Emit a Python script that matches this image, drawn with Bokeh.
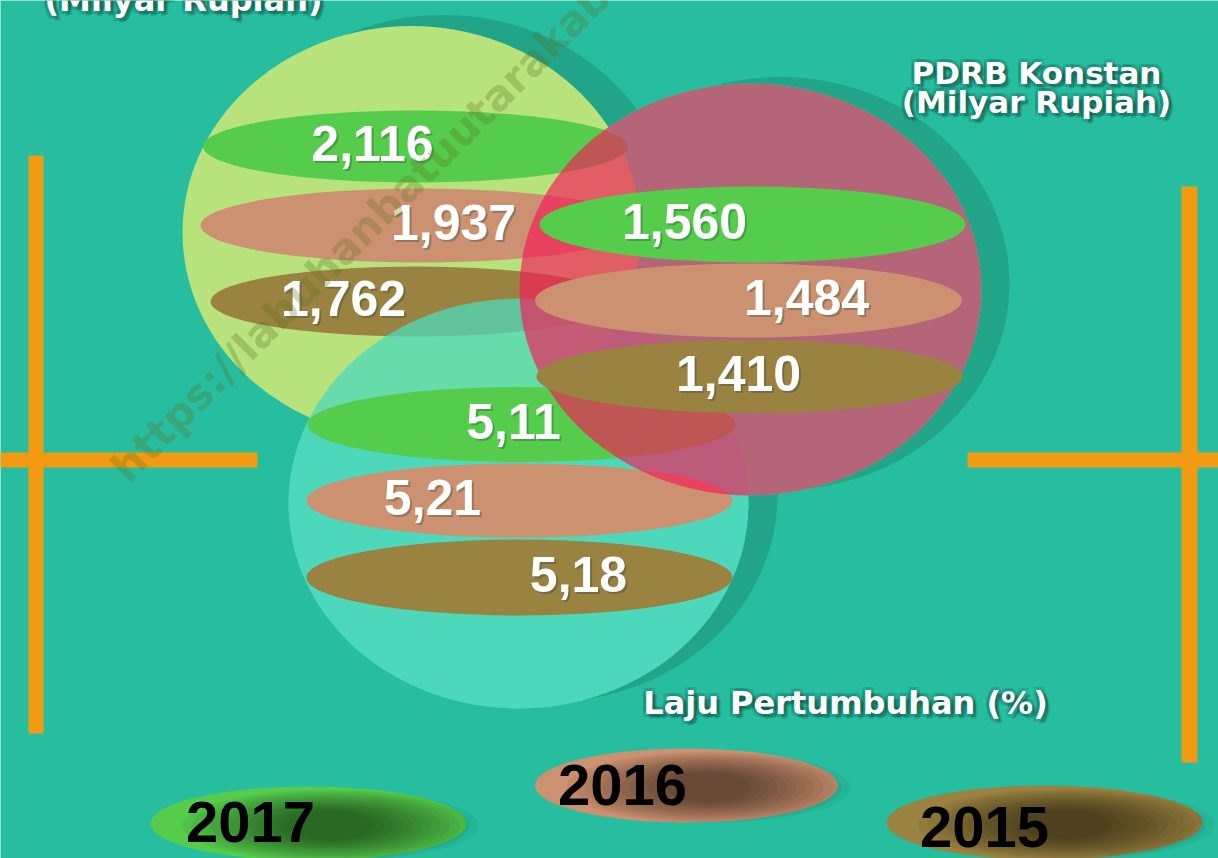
import math
from bokeh.plotting import figure
from bokeh.models import Range1d
from bokeh.core.properties import value
from bokeh.embed import file_html
from bokeh.resources import INLINE

# ---------------- data ----------------
years = ["2017", "2016", "2015"]
pdrb_berlaku = [2.116, 1.937, 1.762]      # PDRB (Milyar Rupiah), 2017/2016/2015
pdrb_konstan = [1.560, 1.484, 1.410]      # PDRB Konstan (Milyar Rupiah)
laju_pertumbuhan = [5.11, 5.21, 5.18]     # Laju Pertumbuhan (%)
title_berlaku = "(Milyar Rupiah)"
title_konstan = ["PDRB Konstan", "(Milyar Rupiah)"]
title_laju = "Laju Pertumbuhan (%)"
watermark = "https://labuhanbatuutarakab.bps.go.id"

def fmt(v, d):
    return f"{v:.{d}f}".replace(".", ",")

lab_berlaku = [fmt(v, 3) for v in pdrb_berlaku]
lab_konstan = [fmt(v, 3) for v in pdrb_konstan]
lab_laju = [fmt(v, 2) for v in laju_pertumbuhan]

# ---------------- style / layout ----------------
BG = "#27BE9F"
ORANGE = "#F29B12"
SHADOW = "#21A487"
YEAR_COLORS = ["#55CC4B", "#CC9170", "#9A8240"]
NUM_FONT = value("Liberation Sans")
TITLE_FONT = value("DejaVu Sans")
BASE_SHIFT = 0.41   # em offset of rendered alphabetic baseline

def base_y(b, size):
    return b - BASE_SHIFT * size

p = figure(width=1218, height=858, x_range=Range1d(0, 1218), y_range=Range1d(858, 0),
           output_backend="svg", toolbar_location=None, min_border=0)
p.axis.visible = False
p.grid.visible = False
p.outline_line_color = None
p.background_fill_color = BG
p.border_fill_color = BG

# orange cross lines
p.quad(left=[28, 0, 1181, 967], right=[43, 257, 1197, 1218],
       top=[155, 452, 186, 452], bottom=[733, 467, 762, 467],
       fill_color=ORANGE, line_color=None)

# bubble geometry: lime (berlaku), aqua (laju), red (konstan)
BW, BH = 458, 413
lime_c = (411, 232)
aqua_c = (518, 503)
red_c = (750, 289)
AQUA = "#4DD8BB"
RED_ALPHA_COLOR = "#F71957"
RED_BASE = "#37F6B5"

# shadows
p.ellipse(x=[lime_c[0] + 32, red_c[0] + 30, aqua_c[0] + 30],
          y=[lime_c[1] - 8, red_c[1] - 6, aqua_c[1] - 8],
          width=[BW + 4, BW, BW], height=[BH + 6, BH, BH],
          fill_color=SHADOW, line_color=None)

# opaque bases
p.ellipse(x=red_c[0], y=red_c[1], width=BW + 4, height=BH - 1, fill_color=RED_BASE, line_color=None)
p.ellipse(x=aqua_c[0], y=aqua_c[1], width=BW + 2, height=BH - 3, fill_color=AQUA, line_color=None)

# lime bubble + bands
p.ellipse(x=lime_c[0], y=lime_c[1], width=BW, height=BH, fill_color="#B8E27C", line_color=None)
lime_bx = [415, 420, 415]
lime_by = [146, 225, 301]
p.ellipse(x=lime_bx, y=lime_by, width=[425, 440, 410], height=[72, 74, 70],
          fill_color=YEAR_COLORS, line_color=None)

# aqua bubble (translucent) + bands
p.ellipse(x=aqua_c[0], y=aqua_c[1], width=BW + 2, height=BH - 3, fill_color=AQUA,
          fill_alpha=0.75, line_color=None)
aqua_bx = [521, 519, 519]
aqua_by = [424, 500, 577]
p.ellipse(x=aqua_bx, y=aqua_by, width=[428, 426, 426], height=[75, 74, 76],
          fill_color=YEAR_COLORS, line_color=None)

# red bubble (translucent) + bands
p.ellipse(x=red_c[0], y=red_c[1], width=BW + 4, height=BH - 1, fill_color=RED_ALPHA_COLOR,
          fill_alpha=0.65, line_color=None)
red_bx = [752, 748, 749]
red_by = [224, 300, 376]
p.ellipse(x=red_bx, y=red_by, width=[426, 427, 426], height=[76, 74, 73],
          fill_color=YEAR_COLORS, line_color=None)

# numbers
NUM_SIZE = 50
def numbers(xs, ys, labels):
    by = [base_y(y + 17, NUM_SIZE) for y in ys]
    p.text(x=[x + 2 for x in xs], y=[y + 2 for y in by], text=labels, text_font=NUM_FONT,
           text_font_style="bold", text_font_size=f"{NUM_SIZE}px", text_color="#1d3b30",
           text_alpha=0.3, text_align="center", text_baseline="alphabetic")
    p.text(x=xs, y=by, text=labels, text_font=NUM_FONT, text_font_style="bold",
           text_font_size=f"{NUM_SIZE}px", text_color="white", text_align="center",
           text_baseline="alphabetic")

numbers([372, 453, 343], lime_by, lab_berlaku)
numbers([684, 806, 738], red_by, lab_konstan)
numbers([513, 432, 578], aqua_by, lab_laju)

# year legend pills
pill_x = [308, 686, 1044]
pill_y = [823, 785, 822]
pill_w = [316, 303, 316]
PH = 74
p.ellipse(x=pill_x, y=pill_y, width=pill_w, height=PH, fill_color=YEAR_COLORS, line_color=None)
for i in range(12):
    k = 0.94 - i * 0.06
    p.ellipse(x=[x + 22 for x in pill_x], y=[y + 2 for y in pill_y],
              width=[w * k for w in pill_w], height=PH * (0.96 - i * 0.05),
              fill_color="black", fill_alpha=0.05, line_color=None)
YEAR_SIZE = 58
p.text(x=[250, 622, 984], y=[base_y(b, YEAR_SIZE) for b in [845, 808, 850]], text=years,
       text_font=NUM_FONT, text_font_style="bold", text_font_size=f"{YEAR_SIZE}px",
       text_color="black", text_align="center", text_baseline="alphabetic")

# titles with glow
def glow_text(x, b, txt, size):
    y = base_y(b, size)
    offs = [(dx, dy) for dx in (-3, 0, 3) for dy in (-3, 0, 3)] + [(4, 4), (5, 3), (3, 5)]
    p.text(x=[x + dx for dx, dy in offs], y=[y + dy for dx, dy in offs], text=[txt] * len(offs),
           text_font=TITLE_FONT, text_font_style="bold", text_font_size=f"{size}px",
           text_color="#0b3b30", text_alpha=0.13, text_align="center", text_baseline="alphabetic")
    p.text(x=[x], y=[y], text=[txt], text_font=TITLE_FONT, text_font_style="bold",
           text_font_size=f"{size}px", text_color="white", text_align="center",
           text_baseline="alphabetic")

glow_text(183, 13, title_berlaku, 32)
glow_text(1036, 85, title_konstan[0], 31)
glow_text(1036, 114, title_konstan[1], 31)
glow_text(845, 716, title_laju, 32)

# watermark
p.text(x=[118], y=[474], text=[watermark], angle=math.pi / 4, text_font=TITLE_FONT,
       text_font_style="bold", text_font_size="42px", text_color="#5f6e1e", text_alpha=0.3,
       text_align="left", text_baseline="alphabetic")

open("out.html", "w").write(file_html(p, INLINE))
